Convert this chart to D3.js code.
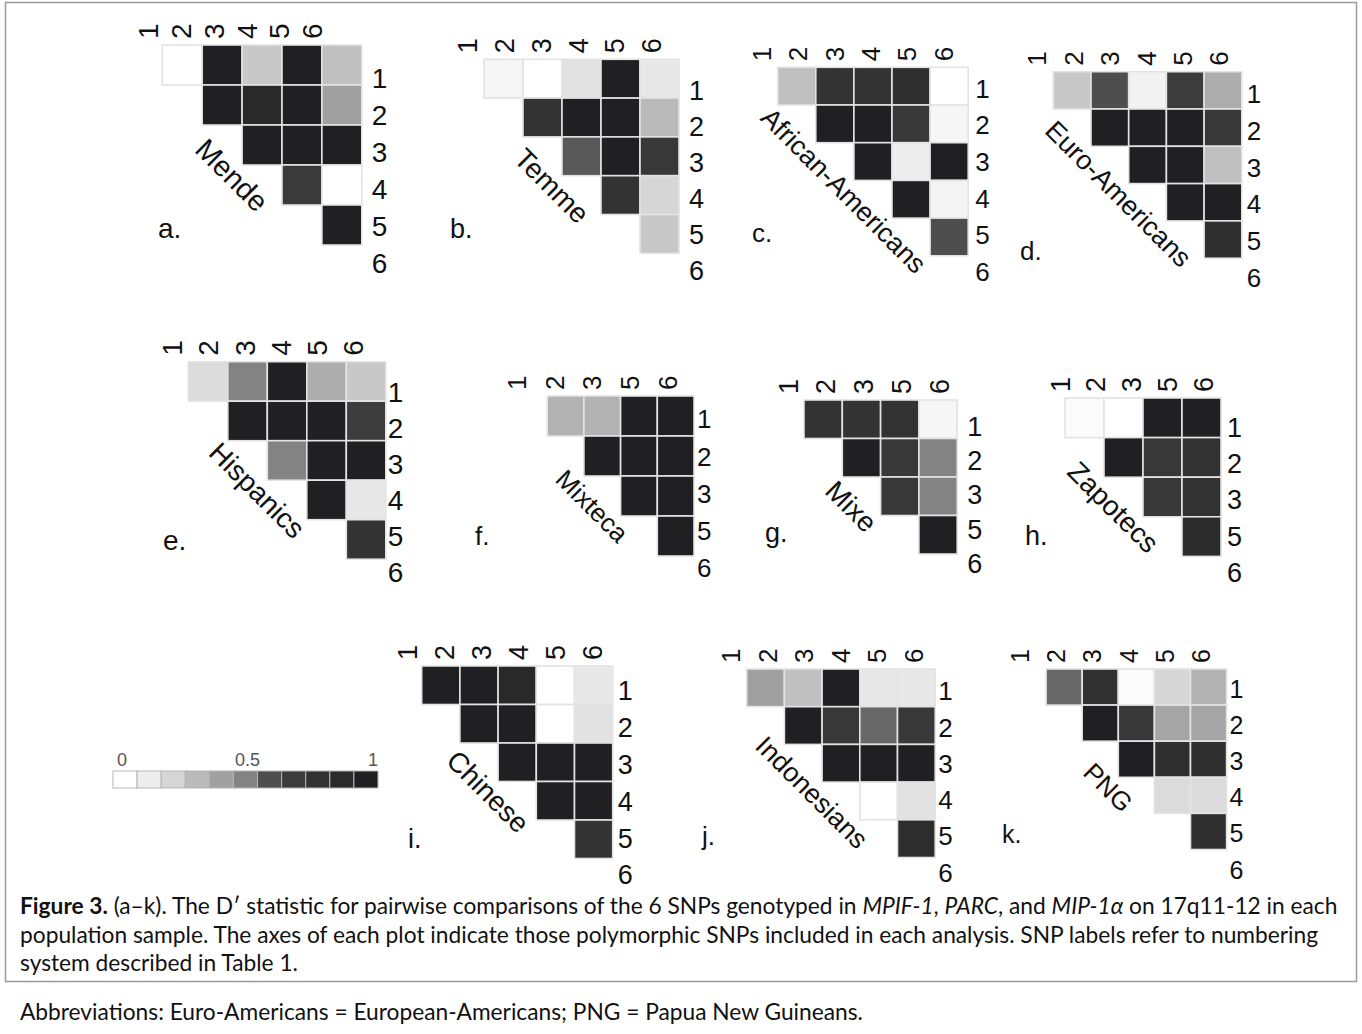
<!DOCTYPE html>
<html><head><meta charset="utf-8">
<script src="https://cdn.jsdelivr.net/npm/d3@7"></script>
<style>body{margin:0;background:#fff} svg{display:block}</style>
</head><body><svg id="c" width="1362" height="1034"></svg>
<script>
// ---------------- data ----------------
const populations = ["Mende","Temme","African-Americans","Euro-Americans","Hispanics","Mixteca","Mixe","Zapotecs","Chinese","Indonesians","PNG"];
const panelLetters = ["a.","b.","c.","d.","e.","f.","g.","h.","i.","j.","k."];
const snpsAll = ["1","2","3","4","5","6"];
const snpsNo4 = ["1","2","3","5","6"];
const panelSnps = [snpsAll,snpsAll,snpsAll,snpsAll,snpsAll,snpsNo4,snpsNo4,snpsNo4,snpsAll,snpsAll,snpsAll];
// upper-triangle D' values: row i lists pairs (i, j>i)
const dMende      = [[0,1,0.25,1,0.28],[1,0.92,1,0.4],[1,1,1],[0.72,0],[1]];
const dTemme      = [[0.05,0,0.15,1,0.12],[0.8,1,1,0.3],[0.58,1,0.75],[0.8,0.2],[0.25]];
const dAfrAm      = [[0.28,0.8,0.8,0.85,0],[1,1,0.75,0.05],[1,0.1,1],[1,0.06],[0.6]];
const dEuroAm     = [[0.25,0.6,0.07,0.7,0.35],[1,1,1,0.75],[1,1,0.28],[1,1],[0.85]];
const dHispanics  = [[0.18,0.5,1,0.35,0.25],[1,1,1,0.7],[0.5,1,1],[1,0.12],[0.8]];
const dMixteca    = [[0.33,0.33,1,1],[1,1,1],[1,1],[1]];
const dMixe       = [[0.8,0.8,0.8,0.05],[1,0.75,0.5],[0.75,0.5],[1]];
const dZapotecs   = [[0.02,0,1,1],[1,0.75,0.8],[0.75,0.8],[0.9]];
const dChinese    = [[1,1,0.92,0,0.12],[1,1,0,0.15],[1,1,1],[1,1],[0.8]];
const dIndonesian = [[0.4,0.28,1,0.12,0.12],[1,0.75,0.55,0.75],[1,1,1],[0,0.15],[0.88]];
const dPNG        = [[0.55,0.82,0.02,0.2,0.33],[1,0.75,0.38,0.38],[1,0.85,0.85],[0.18,0.18],[0.85]];
const panelValues = [dMende,dTemme,dAfrAm,dEuroAm,dHispanics,dMixteca,dMixe,dZapotecs,dChinese,dIndonesian,dPNG];
const legendSteps = [0,0.1,0.2,0.3,0.4,0.5,0.6,0.7,0.8,0.9,1];
const legendTicks = [0,0.5,1];
const legendTickLabels = ["0","0.5","1"];

// ---------------- styles / layout ----------------
const grayRamp = ["#ffffff","#ededed","#d6d6d6","#bababa","#a0a0a0","#838383","#4e4e4e","#3c3c3c","#333333","#2b2b2b","#202022"];
const layout = [
 {x0:122.4, y0:45,   w:39.9, h:40,   lx:158,  ly:238, rdx:10, rA:13, rB:-2, tA:6,   tB:-30},
 {x0:445,   y0:59.3, w:39,   h:38.8, lx:450,  ly:238, rdx:10, rA:12, rB:-2, tA:3,   tB:-8},
 {x0:739.6, y0:67.3, w:38.1, h:37.7, lx:752,  ly:242, rdx:7,  rA:2,  rB:-3, tA:3,   tB:-6},
 {x0:1015.6,y0:71.7, w:37.7, h:37.3, lx:1020, ly:260, rdx:5,  rA:3,  rB:1,  tA:2.5, tB:-4},
 {x0:148.8, y0:361.7,w:39.5, h:39.5, lx:163,  ly:550, rdx:2,  rA:10, rB:-7, tA:3.5, tB:-13},
 {x0:510.5, y0:396,  w:36.7, h:40,   lx:475,  ly:545, rdx:3,  rA:3,  rB:-8, tA:-12, tB:-8.5},
 {x0:765.7, y0:400,  w:38.3, h:38.5, lx:765,  ly:542, rdx:10, rA:7,  rB:-10,tA:3,   tB:1},
 {x0:1026,  y0:398,  w:39,   h:39.6, lx:1025, ly:545, rdx:6,  rA:9,  rB:-4, tA:14.5,tB:1.5},
 {x0:383.5, y0:666,  w:38.2, h:38.5, lx:408,  ly:848, rdx:5,  rA:5,  rB:-3, tA:5,   tB:-1.6},
 {x0:709,   y0:669,  w:37.7, h:37.7, lx:702,  ly:845, rdx:3,  rA:3,  rB:-4, tA:3,   tB:-3},
 {x0:1010,  y0:669,  w:36.1, h:36.1, lx:1002, ly:843, rdx:3,  rA:2,  rB:2,  tA:-8,  tB:-7.6}
];
const FONT = "'Liberation Sans', Arial, sans-serif";

const svg = d3.select("#c");
const color = d3.scaleLinear().domain(legendSteps).range(grayRamp).clamp(true);

// frame
svg.append("rect").attr("x",5.5).attr("y",2.5).attr("width",1351).attr("height",979)
  .attr("fill","none").attr("stroke","#9a9a9a").attr("stroke-width",1.5);

// panels
panelValues.forEach((vals, p) => {
  const L = layout[p], snps = panelSnps[p], n = snps.length;
  const g = svg.append("g");
  const xs = d3.scaleBand().domain(snps).range([L.x0, L.x0 + n*L.w]);
  const ys = d3.scaleBand().domain(snps).range([L.y0, L.y0 + n*L.h]);
  const cells = [];
  vals.forEach((row, i) => row.forEach((v, k) => cells.push({r: snps[i], c: snps[i+1+k], v})));
  g.selectAll("rect.cell").data(cells).join("rect").attr("class","cell")
    .attr("x", d => xs(d.c)).attr("y", d => ys(d.r))
    .attr("width", xs.bandwidth()).attr("height", ys.bandwidth())
    .attr("fill", d => color(d.v)).attr("stroke","#e3e3e3").attr("stroke-width",1.6);
  const cs = Math.min(L.w, L.h);
  const fs = Math.round(cs * 0.7);
  // top labels (rotated)
  g.selectAll("text.top").data(snps).join("text").attr("class","top")
    .attr("transform", (s, i) => {
      const x = xs(s) + xs.bandwidth()/2 + L.tA + (L.tB - L.tA) * i/(n-1);
      return `translate(${x},${L.y0 - 6}) rotate(-90)`;
    })
    .attr("dy","0.36em").attr("font-family",FONT).attr("font-size",fs).attr("fill","#111")
    .text(s => s);
  // right labels
  g.selectAll("text.right").data(snps).join("text").attr("class","right")
    .attr("x", L.x0 + n*L.w + L.rdx)
    .attr("y", (s, i) => ys(s) + ys.bandwidth()/2 + L.rA + (L.rB - L.rA) * i/(n-1))
    .attr("dy","0.36em").attr("font-family",FONT).attr("font-size",fs).attr("fill","#111")
    .text(s => s);
  // population name along diagonal
  const mx = L.x0 + n/2*L.w - 9.9, my = L.y0 + n/2*L.h + 9.9;
  g.append("text").attr("transform",`translate(${mx},${my}) rotate(45)`)
    .attr("text-anchor","middle").attr("dy","0.36em")
    .attr("font-family",FONT).attr("font-size",Math.round(cs*0.72)).attr("fill","#111")
    .text(populations[p]);
  // panel letter
  g.append("text").attr("x",L.lx).attr("y",L.ly)
    .attr("font-family",FONT).attr("font-size",fs).attr("fill","#111").text(panelLetters[p]);
});

// legend
const lg = svg.append("g");
const lx = d3.scaleBand().domain(legendSteps).range([113, 378]);
lg.selectAll("rect").data(legendSteps).join("rect")
  .attr("x", d => lx(d)).attr("y",771).attr("width",lx.bandwidth()).attr("height",17)
  .attr("fill", d => color(d)).attr("stroke","#b5b5b5").attr("stroke-width",1);
const lt = d3.scaleLinear().domain([0,1]).range([122, 373]);
lg.selectAll("text").data(legendTicks).join("text")
  .attr("x", d => lt(d)).attr("y",766).attr("text-anchor","middle")
  .attr("font-family",FONT).attr("font-size",18).attr("fill","#555")
  .text((d,i) => legendTickLabels[i]);

// caption
const CAP = "Lato, 'Open Sans', sans-serif";
const capLines = [
  {y:914, parts:[["Figure 3.","bold"],[" (a\u2013k). The D\u2032 statistic for pairwise comparisons of the 6 SNPs genotyped in ",""],["MPIF-1","italic"],[", ",""],["PARC","italic"],[", and ",""],["MIP-1\u03b1","italic"],[" on 17q11-12 in each",""]]},
  {y:942.5, parts:[["population sample. The axes of each plot indicate those polymorphic SNPs included in each analysis. SNP labels refer to numbering",""]]},
  {y:971, parts:[["system described in Table 1.",""]]},
  {y:1020, parts:[["Abbreviations: Euro-Americans = European-Americans; PNG = Papua New Guineans.",""]]}
];
const texts = capLines.map(line => {
  const t = svg.append("text").attr("x",20).attr("y",line.y)
    .attr("font-family",CAP).attr("font-size",19.5).attr("fill","#111");
  line.parts.forEach(([s, st]) => {
    const ts = t.append("tspan").text(s);
    if (st === "bold") ts.attr("font-weight","bold");
    if (st === "italic") ts.attr("font-style","italic");
  });
  return t;
});
// scale caption font so the first line spans the same width as the original
const natural = texts[0].node().getComputedTextLength();
const capFs = 19.5 * 1318 / natural;
texts.forEach(t => t.attr("font-size", capFs));
</script></body></html>
